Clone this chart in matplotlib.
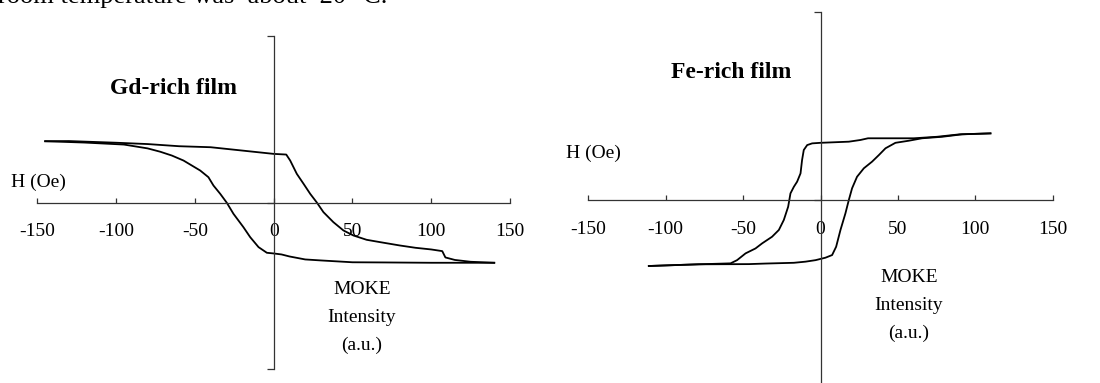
import matplotlib
matplotlib.use("Agg")
import matplotlib.pyplot as plt

plt.rcParams["font.family"] = "Liberation Serif"

# Gd-rich film: two branches of the loop (H in Oe, MOKE intensity in a.u.)
gd_down_h = [-145, -130, -100, -80, -60, -40, -20, 0, 8, 10.5, 14.7, 19, 23.2, 27.4,
             31.6, 37.9, 44.3, 50.6, 59, 67.5, 80, 90, 100, 107, 109, 115, 125, 140]
gd_down_m = [0.368, 0.369, 0.359, 0.351, 0.338, 0.332, 0.312, 0.292, 0.288, 0.252, 0.172,
             0.112, 0.052, 0.0, -0.058, -0.118, -0.168, -0.198, -0.224, -0.238, -0.258,
             -0.272, -0.282, -0.292, -0.330, -0.345, -0.356, -0.362]
gd_up_h = [140, 100, 70, 50, 30, 20, 10, 5, 0, -4.3, -9.6, -14.9, -19.2, -25.5, -29.7,
           -33.9, -38.2, -41.4, -46.6, -57.2, -64.6, -72, -80, -95, -120, -145]
gd_up_m = [-0.362, -0.362, -0.360, -0.359, -0.348, -0.342, -0.324, -0.312, -0.306, -0.302,
           -0.268, -0.208, -0.148, -0.068, -0.002, 0.052, 0.102, 0.152, 0.192, 0.252,
           0.282, 0.305, 0.325, 0.348, 0.360, 0.368]

# Fe-rich film
fe_down_h = [109.8, 90, 75.3, 60.3, 30.7, 25.8, 18.3, 0, -5.4, -8.6, -10.8, -11.9, -12.9,
             -15.1, -17.2, -19.4, -20.9, -23.7, -26.9, -31.3, -37.7, -42, -48.4, -53.9,
             -58.1, -78.6, -93.7, -110.9]
fe_down_m = [0.355, 0.350, 0.337, 0.329, 0.329, 0.320, 0.311, 0.305, 0.302, 0.293, 0.267,
             0.214, 0.143, 0.099, 0.072, 0.037, -0.034, -0.104, -0.157, -0.193, -0.228,
             -0.255, -0.281, -0.317, -0.334, -0.339, -0.343, -0.348]
fe_up_h = [-110.9, -78.6, -46.3, -35.5, -17.2, -9.7, -3.2, 3.2, 7.5, 10.1, 12.9, 16.1,
           18.3, 20.4, 23.6, 28, 33.3, 37.7, 42, 48.4, 57, 65.6, 78.6, 91.5, 109.8]
fe_up_m = [-0.348, -0.339, -0.338, -0.335, -0.331, -0.325, -0.317, -0.304, -0.290, -0.246,
           -0.157, -0.069, 0.002, 0.064, 0.125, 0.170, 0.205, 0.240, 0.276, 0.305, 0.316,
           0.329, 0.337, 0.350, 0.355]

h_ticks = [-150, -100, -50, 0, 50, 100, 150]

W, H = 1100, 383
fig = plt.figure(figsize=(W / 100, H / 100), dpi=100)


def px_axes(x0, x1, ytop, ybot):
    return fig.add_axes([x0 / W, 1 - ybot / H, (x1 - x0) / W, (ybot - ytop) / H])


def style(ax):
    ax.set_xlim(-150, 150)
    ax.set_ylim(-1, 1)
    for s in ("top", "right"):
        ax.spines[s].set_visible(False)
    ax.spines["left"].set_position(("data", 0))
    ax.spines["bottom"].set_position(("data", 0))
    for s in ("left", "bottom"):
        ax.spines[s].set_linewidth(0.9)
        ax.spines[s].set_color("#333333")
    ax.set_xticks(h_ticks)
    ax.set_xticklabels([str(t) for t in h_ticks])
    ax.tick_params(axis="x", direction="in", length=3.5, width=0.9, color="#333333",
                   labelsize=14, pad=15)
    ax.set_yticks([-1, 0, 1])
    ax.set_yticklabels([])
    ax.tick_params(axis="y", direction="out", length=5, width=0.9, color="#333333")
    ax.patch.set_visible(False)


ax1 = px_axes(37.3, 510, 36, 369)
style(ax1)
ax1.plot(gd_down_h, gd_down_m, color="black", lw=1.3)
ax1.plot(gd_up_h, gd_up_m, color="black", lw=1.3)

ax2 = px_axes(588.3, 1052.7, 11.7, 389)
style(ax2)
ax2.plot(fe_down_h, fe_down_m, color="black", lw=1.3)
ax2.plot(fe_up_h, fe_up_m, color="black", lw=1.3)


def ftext(x, y, s, **kw):
    fig.text(x / W, 1 - y / H, s, **kw)


# tail of the paragraph line above the figure
ftext(-2, 3, "room temperature was  about  20 °C.", fontsize=19, va="baseline", ha="left")

ftext(173, 88, "Gd-rich film", fontsize=17, fontweight="bold", ha="center", va="center")
ftext(731, 73, "Fe-rich film", fontsize=17, fontweight="bold", ha="center", va="center")

ftext(38, 182, "H (Oe)", fontsize=14, ha="center", va="center")
ftext(593, 153, "H (Oe)", fontsize=14, ha="center", va="center")

for cx, ys in ((362, (289, 317, 345)), (909, (278, 305, 333))):
    for y, s in zip(ys, ("MOKE", "Intensity", "(a.u.)")):
        ftext(cx, y, s, fontsize=14, ha="center", va="center")

fig.savefig("out.png", dpi=100)
